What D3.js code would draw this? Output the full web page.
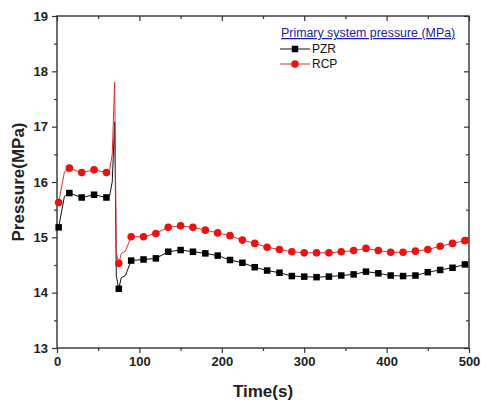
<!DOCTYPE html>
<html>
<head>
<meta charset="utf-8">
<script src="https://cdn.jsdelivr.net/npm/d3@7"></script>
<style>
  body { margin: 0; background: #fff; }
  svg { display: block; font-family: Arial, "Liberation Sans", sans-serif; }
</style>
</head>
<body>
<div id="chart"></div>
<script>
// values
const markTime = [2, 15, 30, 45, 60, 75, 90, 105, 120, 135, 150, 165, 180, 195, 210, 225, 240,
    255, 270, 285, 300, 315, 330, 345, 360, 375, 390, 405, 420, 435, 450, 465, 480, 495];
const pzrMarks = [15.18, 15.80, 15.72, 15.77, 15.72, 14.07, 14.58, 14.60, 14.62, 14.74, 14.77, 14.74,
    14.71, 14.67, 14.59, 14.54, 14.46, 14.40, 14.36, 14.30, 14.29, 14.28, 14.29, 14.31, 14.33, 14.38,
    14.35, 14.31, 14.30, 14.31, 14.37, 14.41, 14.45, 14.51];
const rcpMarks = [15.63, 16.25, 16.17, 16.22, 16.17, 14.53, 15.01, 15.01, 15.07, 15.18, 15.21, 15.18,
    15.13, 15.08, 15.03, 14.95, 14.89, 14.82, 14.78, 14.74, 14.72, 14.72, 14.72, 14.74, 14.76, 14.80,
    14.76, 14.73, 14.73, 14.75, 14.78, 14.84, 14.89, 14.94];

// points on the line that carry no marker (the spike etc.)
const extraTime = [9, 64, 67, 70, 72, 78, 83];
const pzrExtra = [15.74, 15.76, 16.0, 17.08, 14.30, 14.27, 14.31];
const rcpExtra = [16.18, 16.22, 16.5, 17.80, 14.72, 14.71, 14.75];

const xTicks = [0, 100, 200, 300, 400, 500];
const yTicks = [13, 14, 15, 16, 17, 18, 19];

const legendTitle = "Primary system pressure (MPa)";
const seriesNames = ["PZR", "RCP"];

const margin = {top: 16, right: 12, bottom: 53, left: 57},
    width = 481 - margin.left - margin.right,
    height = 401 - margin.top - margin.bottom;

const axisColor = "#333";

const svg = d3.select("#chart").append("svg")
    .attr("width", 481)
    .attr("height", 401);

const g = svg.append("g")
    .attr("transform", `translate(${margin.left},${margin.top})`);

const x = d3.scaleLinear().domain([0, 500]).range([0, width]);
const y = d3.scaleLinear().domain([13, 19]).range([height, 0]);

function mergeSeries(times, vals, eTimes, eVals){
    const pts = times.map((t, i) => ({t: t, v: vals[i]}))
        .concat(eTimes.map((t, i) => ({t: t, v: eVals[i]})));
    return pts.sort((a, b) => a.t - b.t);
}

const pzrLine = mergeSeries(markTime, pzrMarks, extraTime, pzrExtra);
const rcpLine = mergeSeries(markTime, rcpMarks, extraTime, rcpExtra);

const line = d3.line().x(d => x(d.t)).y(d => y(d.v));

// minor ticks
const xMinor = d3.range(50, 500, 100);
const yMinor = d3.range(13.5, 19, 1);

function styleAxis(sel){
    sel.select(".domain").remove();
    sel.selectAll("line").attr("stroke", axisColor).attr("stroke-width", 1.2);
    sel.selectAll("text")
        .attr("fill", "#222")
        .style("font-size", "13px")
        .style("font-weight", "bold");
}

// bottom
g.append("g").attr("transform", `translate(0,${height})`)
    .call(d3.axisBottom(x).tickValues(xTicks).tickSize(5).tickPadding(4))
    .call(styleAxis);
g.append("g").attr("transform", `translate(0,${height})`)
    .call(d3.axisBottom(x).tickValues(xMinor).tickSize(3).tickFormat(""))
    .call(styleAxis);
// left
g.append("g")
    .call(d3.axisLeft(y).tickValues(yTicks).tickSize(5).tickPadding(4).tickFormat(d3.format("d")))
    .call(styleAxis);
g.append("g")
    .call(d3.axisLeft(y).tickValues(yMinor).tickSize(3).tickFormat(""))
    .call(styleAxis);
// top, ticks inward
g.append("g")
    .call(d3.axisTop(x).tickValues(xTicks).tickSize(-5).tickFormat(""))
    .call(styleAxis);
g.append("g")
    .call(d3.axisTop(x).tickValues(xMinor).tickSize(-3).tickFormat(""))
    .call(styleAxis);
// right, ticks inward
g.append("g").attr("transform", `translate(${width},0)`)
    .call(d3.axisRight(y).tickValues(yTicks).tickSize(-5).tickFormat(""))
    .call(styleAxis);
g.append("g").attr("transform", `translate(${width},0)`)
    .call(d3.axisRight(y).tickValues(yMinor).tickSize(-3).tickFormat(""))
    .call(styleAxis);

// frame
g.append("rect")
    .attr("width", width)
    .attr("height", height)
    .attr("fill", "none")
    .attr("stroke", axisColor)
    .attr("stroke-width", 1.4);

// lines
g.append("path").datum(pzrLine)
    .attr("fill", "none")
    .attr("stroke", "#111")
    .attr("stroke-width", 1)
    .attr("d", line);

g.append("path").datum(rcpLine)
    .attr("fill", "none")
    .attr("stroke", "#e23030")
    .attr("stroke-width", 1)
    .attr("d", line);

// markers
const sq = 6.5;
g.selectAll(".pzr")
    .data(markTime.map((t, i) => ({t: t, v: pzrMarks[i]})))
    .enter().append("rect")
    .attr("class", "pzr")
    .attr("x", d => x(d.t) - sq / 2)
    .attr("y", d => y(d.v) - sq / 2)
    .attr("width", sq)
    .attr("height", sq)
    .attr("fill", "#000");

g.selectAll(".rcp")
    .data(markTime.map((t, i) => ({t: t, v: rcpMarks[i]})))
    .enter().append("circle")
    .attr("class", "rcp")
    .attr("cx", d => x(d.t))
    .attr("cy", d => y(d.v))
    .attr("r", 3.8)
    .attr("fill", "#ee1111");

// axis titles
svg.append("text")
    .attr("x", margin.left + width / 2)
    .attr("y", 397)
    .attr("text-anchor", "middle")
    .style("font-size", "17px")
    .style("font-weight", "bold")
    .attr("fill", "#222")
    .text("Time(s)");

svg.append("text")
    .attr("transform", `translate(24,${margin.top + height / 2}) rotate(-90)`)
    .attr("text-anchor", "middle")
    .style("font-size", "17px")
    .style("font-weight", "bold")
    .attr("fill", "#222")
    .text("Pressure(MPa)");

// legend
const leg = svg.append("g");
leg.append("text")
    .attr("x", 281)
    .attr("y", 37)
    .style("font-size", "12.4px")
    .style("text-decoration", "underline")
    .attr("fill", "#1d1da8")
    .text(legendTitle);

const legColors = [["#111", "#000"], ["#e23030", "#ee1111"]];
seriesNames.forEach((name, i) => {
    const cy = 49 + i * 15;
    leg.append("line")
        .attr("x1", 280).attr("x2", 310)
        .attr("y1", cy).attr("y2", cy)
        .attr("stroke", legColors[i][0])
        .attr("stroke-width", 1);
    if (i === 0) {
        leg.append("rect")
            .attr("x", 295 - sq / 2).attr("y", cy - sq / 2)
            .attr("width", sq).attr("height", sq)
            .attr("fill", legColors[i][1]);
    } else {
        leg.append("circle")
            .attr("cx", 295).attr("cy", cy).attr("r", 3.8)
            .attr("fill", legColors[i][1]);
    }
    leg.append("text")
        .attr("x", 312)
        .attr("y", cy + 4.2)
        .style("font-size", "12px")
        .attr("fill", "#111")
        .text(name);
});
</script>
</body>
</html>
